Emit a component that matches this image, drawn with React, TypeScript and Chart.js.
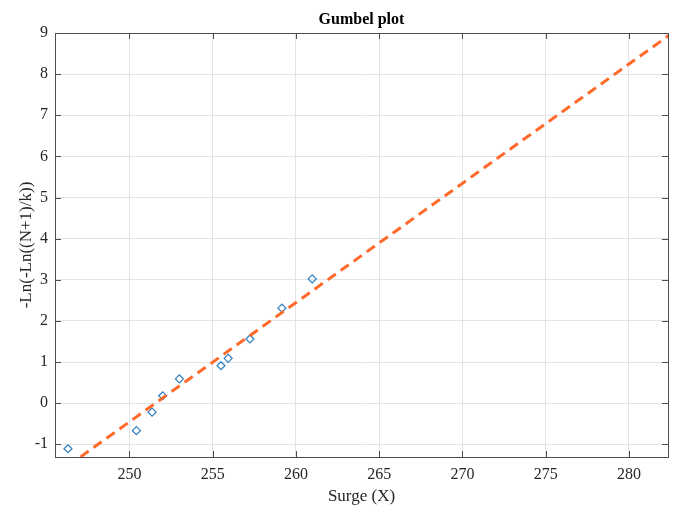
import React, { useEffect, useRef } from "react";
import { Chart, registerables } from "chart.js";

Chart.register(...registerables);

const surgeX = [246.31, 250.42, 251.36, 252.0, 253.0, 255.5, 255.93, 257.24, 259.16, 260.98];
const reducedY = [-1.11, -0.67, -0.22, 0.18, 0.59, 0.91, 1.09, 1.56, 2.31, 3.02];
const fitX = [245.5, 282.4];
const fitY = [-1.76, 8.94];
const xTicks = [250, 255, 260, 265, 270, 275, 280];
const yTicks = [-1, 0, 1, 2, 3, 4, 5, 6, 7, 8, 9];

const FONT = "'Liberation Serif', 'Times New Roman', serif";

const boxPlugin = {
  id: "matlabBox",
  afterDraw(chart: any) {
    const { ctx, chartArea } = chart;
    const { left, right, top, bottom } = chartArea;
    const xs = chart.scales.x;
    const ys = chart.scales.y;
    ctx.save();
    ctx.strokeStyle = "#4d4d4d";
    ctx.lineWidth = 1;
    ctx.beginPath();
    const tl = 6;
    xTicks.forEach((v) => {
      const px = Math.round(xs.getPixelForValue(v)) + 0.5;
      ctx.moveTo(px, bottom);
      ctx.lineTo(px, bottom - tl);
      ctx.moveTo(px, top);
      ctx.lineTo(px, top + tl);
    });
    yTicks.forEach((v) => {
      const py = Math.round(ys.getPixelForValue(v)) + 0.5;
      ctx.moveTo(left, py);
      ctx.lineTo(left + tl, py);
      ctx.moveTo(right, py);
      ctx.lineTo(right - tl, py);
    });
    ctx.stroke();
    ctx.strokeRect(Math.round(left) + 0.5, Math.round(top) + 0.5, Math.round(right - left), Math.round(bottom - top));
    ctx.fillStyle = "#000";
    ctx.font = `bold 16px ${FONT}`;
    ctx.textAlign = "center";
    ctx.textBaseline = "middle";
    ctx.fillText("Gumbel plot", (left + right) / 2, 20);
    ctx.restore();
  },
};

export default function App() {
  const ref = useRef<HTMLCanvasElement>(null);
  useEffect(() => {
    if (!ref.current) return;
    const chart = new Chart(ref.current, {
      type: "scatter",
      data: {
        datasets: [
          {
            type: "line",
            label: "fit",
            data: fitX.map((x, i) => ({ x, y: fitY[i] })),
            borderColor: "#ff6a2b",
            borderWidth: 3,
            borderDash: [10, 6],
            pointRadius: 0,
            fill: false,
          },
          {
            label: "data",
            data: surgeX.map((x, i) => ({ x, y: reducedY[i] })),
            pointStyle: "rectRot",
            pointRadius: 4,
            borderColor: "#2f7fc1",
            backgroundColor: "rgba(255,255,255,0)",
            borderWidth: 1.2,
          },
        ],
      },
      options: {
        animation: false,
        responsive: true,
        maintainAspectRatio: false,
        layout: { padding: { top: 33, right: 10, left: 0, bottom: 0 } },
        plugins: { legend: { display: false }, tooltip: { enabled: false }, title: { display: false } },
        scales: {
          x: {
            type: "linear",
            min: 245.53,
            max: 282.35,
            afterBuildTicks: (s: any) => {
              s.ticks = xTicks.map((v) => ({ value: v }));
            },
            afterFit: (s: any) => {
              s.height = 52;
            },
            grid: { color: "#e4e4e4", drawTicks: false },
            border: { display: false },
            ticks: { padding: 8, color: "#262626", font: { family: FONT, size: 16 } },
            title: {
              display: true,
              text: "Surge (X)",
              color: "#262626",
              font: { family: FONT, size: 17 },
              padding: { top: 0, bottom: 2 },
            },
          },
          y: {
            type: "linear",
            min: -1.31,
            max: 9,
            afterBuildTicks: (s: any) => {
              s.ticks = yTicks.map((v) => ({ value: v }));
            },
            afterFit: (s: any) => {
              s.width = 55;
            },
            grid: { color: "#e4e4e4", drawTicks: false },
            border: { display: false },
            ticks: { padding: 7, color: "#262626", font: { family: FONT, size: 16 } },
            title: {
              display: true,
              text: "-Ln(-Ln((N+1)/k))",
              color: "#262626",
              font: { family: FONT, size: 17 },
              padding: { top: 16, bottom: 0 },
            },
          },
        },
      },
      plugins: [boxPlugin],
    } as any);
    return () => chart.destroy();
  }, []);
  return (
    <div style={{ position: "fixed", left: 0, top: 0, width: 678, height: 509, background: "#fff" }}>
      <canvas ref={ref} />
    </div>
  );
}
